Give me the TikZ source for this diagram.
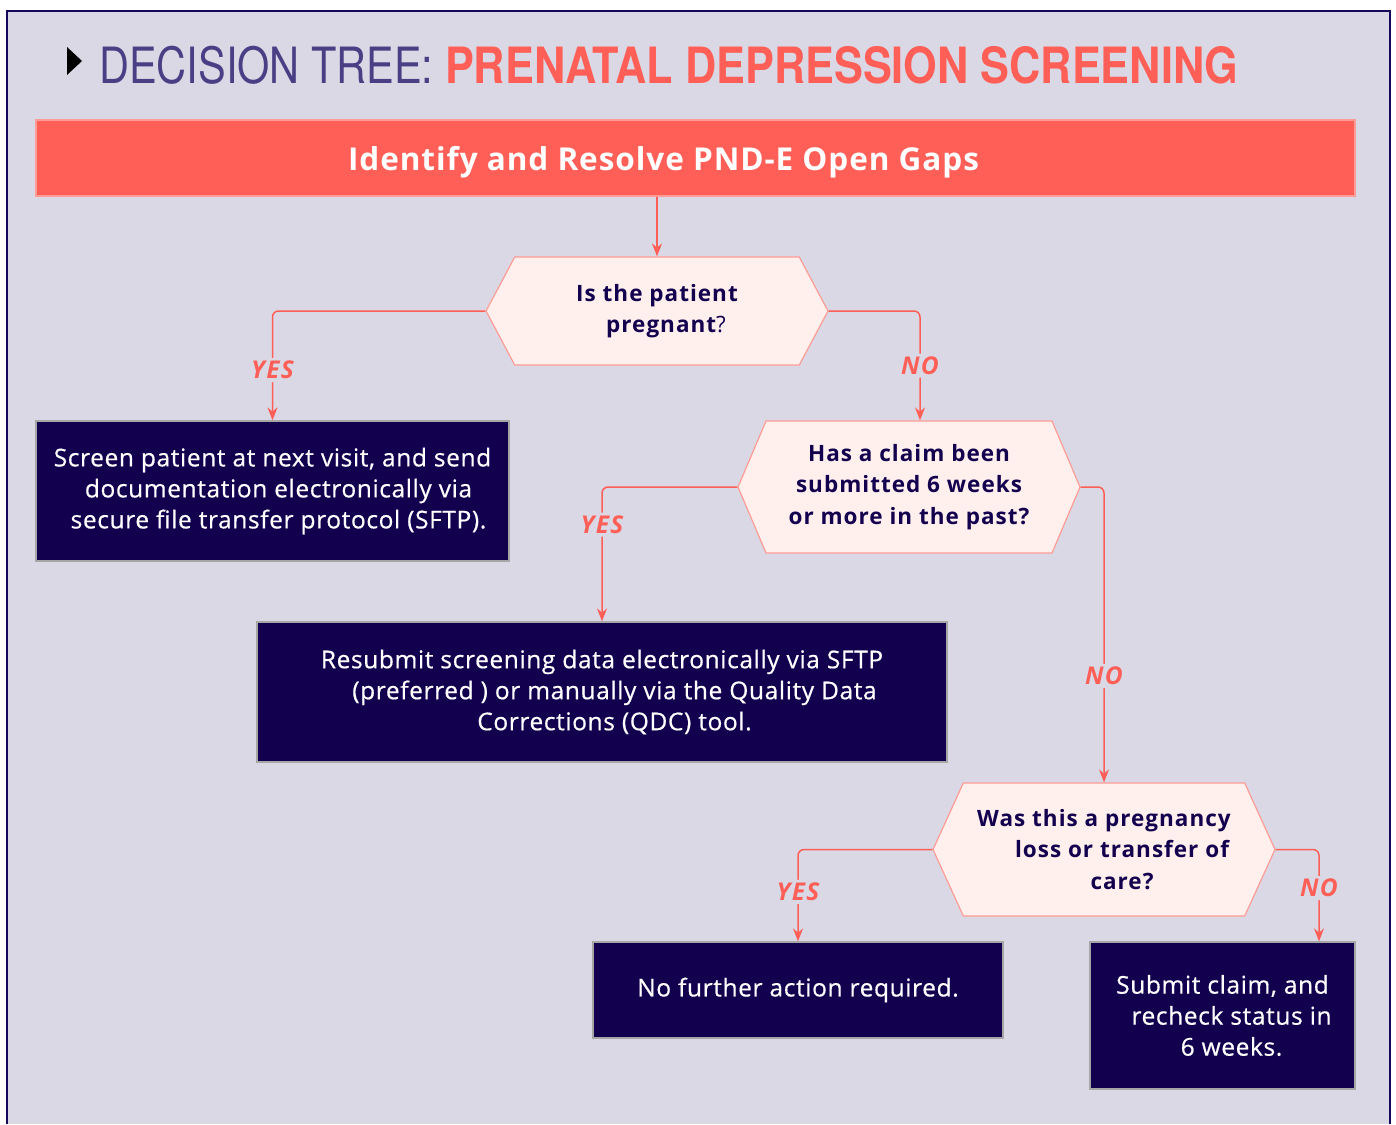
\documentclass[tikz,border=0pt]{standalone}
\usepackage{fontspec}
\setmainfont{Open Sans}
\newfontfamily\boxfont{Open Sans}[FakeBold=0.5, LetterSpace=2.5]
\newfontfamily\titlefont{TeX Gyre Heros}[FakeStretch=0.83]
\newfontfamily\titleboldfont{TeX Gyre Heros}[FakeStretch=0.865]
\usepackage{xcolor}
\usetikzlibrary{shapes.symbols, arrows.meta, positioning, calc}
\definecolor{panelbg}{HTML}{DAD8E5}
\definecolor{panelline}{HTML}{14085A}
\definecolor{coral}{HTML}{FF5F57}
\definecolor{coralline}{HTML}{FF9C95}
\definecolor{hexfill}{HTML}{FFEFED}
\definecolor{navy}{HTML}{12004F}
\definecolor{titlepurple}{HTML}{4A3F85}
\tikzset{
  header/.style={rectangle, draw=coralline, fill=coral, line width=1.5pt, text=white, text depth=0pt,
    font=\bfseries\fontsize{31.5}{40}\selectfont\addfontfeature{LetterSpace=3}},
  decision/.style={signal, signal to=west and east, draw=coralline, fill=hexfill, line width=1.2pt, text=navy, align=center, inner sep=0pt,
    font=\bfseries\fontsize{22.5}{31.5}\selectfont\addfontfeature{LetterSpace=4.5}},
  action/.style={rectangle, draw=gray!70, fill=navy, line width=1.2pt, text=white, align=center, font=\boxfont\fontsize{24.5}{31}\selectfont},
  arrow/.style={draw=coral, line width=1.5pt, rounded corners=6pt, -{Stealth[length=13pt,width=10pt]}},
  answer/.style={fill=panelbg, text=coral, inner sep=3pt, font=\bfseries\itshape\fontsize{24.5}{24}\selectfont\addfontfeature{LetterSpace=5}}
}

\begin{document}
\begin{tikzpicture}[x=1pt, y=-1pt]
\useasboundingbox (0,0) rectangle (1396,1124);
% panel and title
\fill[panelbg] (7,11) rectangle (1390,1124);
\draw[panelline, line width=2pt] (7,1124) -- (7,11) -- (1390,11) -- (1390,1124);
\fill[black] (67,47) -- (82,61) -- (67,75) -- cycle;
\node[anchor=base west, inner sep=0pt, font=\fontsize{50}{50}\selectfont] (title) at (99,83)
  {\titlefont\color{titlepurple}DECISION TREE: \titleboldfont\color{coral}\bfseries PRENATAL DEPRESSION SCREENING};

\node[header, minimum width=1319, minimum height=76] (gaps) at (695.5,158) {\hspace*{-64pt}Identify and Resolve PND-E Open Gaps};

% questions
\node[decision, minimum width=342, minimum height=108, signal pointer angle=124] (pregnant) at (657,311)
  {Is the patient\\ \hspace*{18pt}pregnant{\mdseries ?}};
\node[decision, minimum width=342, minimum height=132, signal pointer angle=134] (claim) at (909,487)
  {Has a claim been\\ submitted 6 weeks\\ or more in the past?};
\node[decision, minimum width=342, minimum height=133, signal pointer angle=131] (loss) at (1104,849.5)
  {Was this a pregnancy\\ \hspace*{36pt}loss or transfer of\\ \hspace*{36pt}care?};

% actions
\node[action, minimum width=473, minimum height=140] (screen) at (272.5,491)
  {Screen patient at next visit, and send\\ \hspace*{12pt}documentation electronically via\\ \hspace*{12pt}secure file transfer protocol (SFTP).};
\node[action, minimum width=690, minimum height=140] (resubmit) at (602,692)
  {Resubmit screening data electronically via SFTP\\ \hspace*{25pt}(preferred ) or manually via the Quality Data\\ \hspace*{25pt}Corrections (QDC) tool.};
\node[action, minimum width=410, minimum height=96] (noaction) at (798,990) {No further action required.};
\node[action, minimum width=265, minimum height=147] (submit) at (1222.5,1015.5)
  {Submit claim, and\\ \hspace*{18pt}recheck status in\\ \hspace*{18pt}6 weeks.};

% connectors
\draw[arrow] (gaps.south -| pregnant.north) -- (pregnant.north);
\draw[arrow] (pregnant.west) -| node[answer, pos=0.77] {YES} (screen.north);
\draw[arrow] (pregnant.east) -| node[answer, pos=0.75] {NO} ([xshift=11pt]claim.north);
\draw[arrow] (claim.west) -| node[answer, pos=0.64] {YES} (resubmit.north);
\draw[arrow] (claim.east) -| node[answer, pos=0.82] {NO} (loss.north);
\draw[arrow] (loss.west) -| node[answer, pos=0.73] {YES} (noaction.north);
\draw[arrow] (loss.east) -| node[answer, pos=0.71] {NO} ([xshift=96.5pt]submit.north);
\end{tikzpicture}
\end{document}
